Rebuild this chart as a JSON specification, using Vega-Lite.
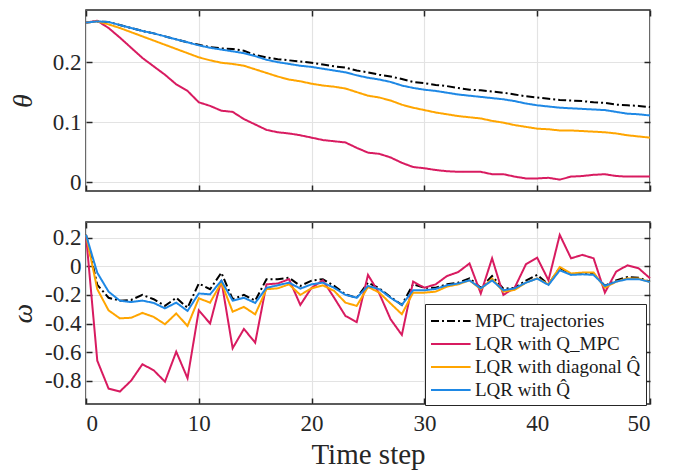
{
"$schema":"https://vega.github.io/schema/vega-lite/v6.json",
"padding":{"left":8,"top":8,"right":5,"bottom":5},
"background":"white",
"data":{"values":[
{"s":"MPC trajectories","t":0,"th":0.266,"w":0.22},
{"s":"MPC trajectories","t":1,"th":0.268,"w":-0.13},
{"s":"MPC trajectories","t":2,"th":0.267,"w":-0.22},
{"s":"MPC trajectories","t":3,"th":0.262,"w":-0.24},
{"s":"MPC trajectories","t":4,"th":0.257,"w":-0.235},
{"s":"MPC trajectories","t":5,"th":0.252,"w":-0.2},
{"s":"MPC trajectories","t":6,"th":0.248,"w":-0.23},
{"s":"MPC trajectories","t":7,"th":0.243,"w":-0.277},
{"s":"MPC trajectories","t":8,"th":0.238,"w":-0.22},
{"s":"MPC trajectories","t":9,"th":0.233,"w":-0.29},
{"s":"MPC trajectories","t":10,"th":0.229,"w":-0.12},
{"s":"MPC trajectories","t":11,"th":0.225,"w":-0.16},
{"s":"MPC trajectories","t":12,"th":0.223,"w":-0.045},
{"s":"MPC trajectories","t":13,"th":0.222,"w":-0.23},
{"s":"MPC trajectories","t":14,"th":0.219,"w":-0.2},
{"s":"MPC trajectories","t":15,"th":0.212,"w":-0.24},
{"s":"MPC trajectories","t":16,"th":0.208,"w":-0.09},
{"s":"MPC trajectories","t":17,"th":0.205,"w":-0.09},
{"s":"MPC trajectories","t":18,"th":0.203,"w":-0.08},
{"s":"MPC trajectories","t":19,"th":0.201,"w":-0.137},
{"s":"MPC trajectories","t":20,"th":0.199,"w":-0.1},
{"s":"MPC trajectories","t":21,"th":0.196,"w":-0.09},
{"s":"MPC trajectories","t":22,"th":0.193,"w":-0.137},
{"s":"MPC trajectories","t":23,"th":0.191,"w":-0.196},
{"s":"MPC trajectories","t":24,"th":0.186,"w":-0.22},
{"s":"MPC trajectories","t":25,"th":0.183,"w":-0.114},
{"s":"MPC trajectories","t":26,"th":0.179,"w":-0.154},
{"s":"MPC trajectories","t":27,"th":0.176,"w":-0.215},
{"s":"MPC trajectories","t":28,"th":0.172,"w":-0.27},
{"s":"MPC trajectories","t":29,"th":0.167,"w":-0.125},
{"s":"MPC trajectories","t":30,"th":0.165,"w":-0.15},
{"s":"MPC trajectories","t":31,"th":0.162,"w":-0.15},
{"s":"MPC trajectories","t":32,"th":0.16,"w":-0.126},
{"s":"MPC trajectories","t":33,"th":0.157,"w":-0.114},
{"s":"MPC trajectories","t":34,"th":0.154,"w":-0.084},
{"s":"MPC trajectories","t":35,"th":0.153,"w":-0.15},
{"s":"MPC trajectories","t":36,"th":0.151,"w":-0.068},
{"s":"MPC trajectories","t":37,"th":0.149,"w":-0.156},
{"s":"MPC trajectories","t":38,"th":0.146,"w":-0.15},
{"s":"MPC trajectories","t":39,"th":0.143,"w":-0.1},
{"s":"MPC trajectories","t":40,"th":0.141,"w":-0.06},
{"s":"MPC trajectories","t":41,"th":0.139,"w":-0.126},
{"s":"MPC trajectories","t":42,"th":0.137,"w":-0.01},
{"s":"MPC trajectories","t":43,"th":0.136,"w":-0.056},
{"s":"MPC trajectories","t":44,"th":0.135,"w":-0.05},
{"s":"MPC trajectories","t":45,"th":0.133,"w":-0.05},
{"s":"MPC trajectories","t":46,"th":0.132,"w":-0.137},
{"s":"MPC trajectories","t":47,"th":0.129,"w":-0.098},
{"s":"MPC trajectories","t":48,"th":0.128,"w":-0.075},
{"s":"MPC trajectories","t":49,"th":0.127,"w":-0.08},
{"s":"MPC trajectories","t":50,"th":0.125,"w":-0.107},
{"s":"LQR with Q_MPC","t":0,"th":0.266,"w":0.22},
{"s":"LQR with Q_MPC","t":1,"th":0.269,"w":-0.66},
{"s":"LQR with Q_MPC","t":2,"th":0.257,"w":-0.855},
{"s":"LQR with Q_MPC","t":3,"th":0.241,"w":-0.876},
{"s":"LQR with Q_MPC","t":4,"th":0.224,"w":-0.8},
{"s":"LQR with Q_MPC","t":5,"th":0.207,"w":-0.685},
{"s":"LQR with Q_MPC","t":6,"th":0.193,"w":-0.727},
{"s":"LQR with Q_MPC","t":7,"th":0.179,"w":-0.807},
{"s":"LQR with Q_MPC","t":8,"th":0.163,"w":-0.597},
{"s":"LQR with Q_MPC","t":9,"th":0.152,"w":-0.783},
{"s":"LQR with Q_MPC","t":10,"th":0.133,"w":-0.308},
{"s":"LQR with Q_MPC","t":11,"th":0.127,"w":-0.4},
{"s":"LQR with Q_MPC","t":12,"th":0.119,"w":-0.098},
{"s":"LQR with Q_MPC","t":13,"th":0.117,"w":-0.573},
{"s":"LQR with Q_MPC","t":14,"th":0.105,"w":-0.438},
{"s":"LQR with Q_MPC","t":15,"th":0.096,"w":-0.534},
{"s":"LQR with Q_MPC","t":16,"th":0.087,"w":-0.126},
{"s":"LQR with Q_MPC","t":17,"th":0.083,"w":-0.12},
{"s":"LQR with Q_MPC","t":18,"th":0.081,"w":-0.09},
{"s":"LQR with Q_MPC","t":19,"th":0.078,"w":-0.27},
{"s":"LQR with Q_MPC","t":20,"th":0.074,"w":-0.15},
{"s":"LQR with Q_MPC","t":21,"th":0.07,"w":-0.098},
{"s":"LQR with Q_MPC","t":22,"th":0.068,"w":-0.22},
{"s":"LQR with Q_MPC","t":23,"th":0.066,"w":-0.347},
{"s":"LQR with Q_MPC","t":24,"th":0.057,"w":-0.39},
{"s":"LQR with Q_MPC","t":25,"th":0.049,"w":-0.06},
{"s":"LQR with Q_MPC","t":26,"th":0.047,"w":-0.19},
{"s":"LQR with Q_MPC","t":27,"th":0.041,"w":-0.37},
{"s":"LQR with Q_MPC","t":28,"th":0.032,"w":-0.48},
{"s":"LQR with Q_MPC","t":29,"th":0.025,"w":-0.107},
{"s":"LQR with Q_MPC","t":30,"th":0.023,"w":-0.15},
{"s":"LQR with Q_MPC","t":31,"th":0.02,"w":-0.126},
{"s":"LQR with Q_MPC","t":32,"th":0.018,"w":-0.068},
{"s":"LQR with Q_MPC","t":33,"th":0.017,"w":-0.04},
{"s":"LQR with Q_MPC","t":34,"th":0.017,"w":0.02},
{"s":"LQR with Q_MPC","t":35,"th":0.017,"w":-0.19},
{"s":"LQR with Q_MPC","t":36,"th":0.013,"w":0.056},
{"s":"LQR with Q_MPC","t":37,"th":0.013,"w":-0.2},
{"s":"LQR with Q_MPC","t":38,"th":0.009,"w":-0.15},
{"s":"LQR with Q_MPC","t":39,"th":0.006,"w":0.014},
{"s":"LQR with Q_MPC","t":40,"th":0.006,"w":0.06},
{"s":"LQR with Q_MPC","t":41,"th":0.007,"w":-0.098},
{"s":"LQR with Q_MPC","t":42,"th":0.004,"w":0.22},
{"s":"LQR with Q_MPC","t":43,"th":0.009,"w":0.056},
{"s":"LQR with Q_MPC","t":44,"th":0.01,"w":0.08},
{"s":"LQR with Q_MPC","t":45,"th":0.012,"w":0.056},
{"s":"LQR with Q_MPC","t":46,"th":0.013,"w":-0.184},
{"s":"LQR with Q_MPC","t":47,"th":0.01,"w":-0.037},
{"s":"LQR with Q_MPC","t":48,"th":0.009,"w":0.007},
{"s":"LQR with Q_MPC","t":49,"th":0.009,"w":-0.014},
{"s":"LQR with Q_MPC","t":50,"th":0.009,"w":-0.084},
{"s":"LQR with diagonal Q\u0302","t":0,"th":0.266,"w":0.22},
{"s":"LQR with diagonal Q\u0302","t":1,"th":0.268,"w":-0.16},
{"s":"LQR with diagonal Q\u0302","t":2,"th":0.263,"w":-0.308},
{"s":"LQR with diagonal Q\u0302","t":3,"th":0.257,"w":-0.364},
{"s":"LQR with diagonal Q\u0302","t":4,"th":0.25,"w":-0.36},
{"s":"LQR with diagonal Q\u0302","t":5,"th":0.243,"w":-0.326},
{"s":"LQR with diagonal Q\u0302","t":6,"th":0.236,"w":-0.354},
{"s":"LQR with diagonal Q\u0302","t":7,"th":0.229,"w":-0.405},
{"s":"LQR with diagonal Q\u0302","t":8,"th":0.222,"w":-0.33},
{"s":"LQR with diagonal Q\u0302","t":9,"th":0.215,"w":-0.417},
{"s":"LQR with diagonal Q\u0302","t":10,"th":0.208,"w":-0.224},
{"s":"LQR with diagonal Q\u0302","t":11,"th":0.203,"w":-0.254},
{"s":"LQR with diagonal Q\u0302","t":12,"th":0.199,"w":-0.114},
{"s":"LQR with diagonal Q\u0302","t":13,"th":0.197,"w":-0.317},
{"s":"LQR with diagonal Q\u0302","t":14,"th":0.194,"w":-0.284},
{"s":"LQR with diagonal Q\u0302","t":15,"th":0.188,"w":-0.336},
{"s":"LQR with diagonal Q\u0302","t":16,"th":0.182,"w":-0.16},
{"s":"LQR with diagonal Q\u0302","t":17,"th":0.176,"w":-0.154},
{"s":"LQR with diagonal Q\u0302","t":18,"th":0.171,"w":-0.126},
{"s":"LQR with diagonal Q\u0302","t":19,"th":0.168,"w":-0.2},
{"s":"LQR with diagonal Q\u0302","t":20,"th":0.164,"w":-0.154},
{"s":"LQR with diagonal Q\u0302","t":21,"th":0.161,"w":-0.133},
{"s":"LQR with diagonal Q\u0302","t":22,"th":0.159,"w":-0.172},
{"s":"LQR with diagonal Q\u0302","t":23,"th":0.156,"w":-0.254},
{"s":"LQR with diagonal Q\u0302","t":24,"th":0.15,"w":-0.277},
{"s":"LQR with diagonal Q\u0302","t":25,"th":0.144,"w":-0.144},
{"s":"LQR with diagonal Q\u0302","t":26,"th":0.141,"w":-0.184},
{"s":"LQR with diagonal Q\u0302","t":27,"th":0.136,"w":-0.26},
{"s":"LQR with diagonal Q\u0302","t":28,"th":0.129,"w":-0.335},
{"s":"LQR with diagonal Q\u0302","t":29,"th":0.124,"w":-0.184},
{"s":"LQR with diagonal Q\u0302","t":30,"th":0.12,"w":-0.184},
{"s":"LQR with diagonal Q\u0302","t":31,"th":0.116,"w":-0.177},
{"s":"LQR with diagonal Q\u0302","t":32,"th":0.113,"w":-0.142},
{"s":"LQR with diagonal Q\u0302","t":33,"th":0.11,"w":-0.126},
{"s":"LQR with diagonal Q\u0302","t":34,"th":0.108,"w":-0.098},
{"s":"LQR with diagonal Q\u0302","t":35,"th":0.106,"w":-0.16},
{"s":"LQR with diagonal Q\u0302","t":36,"th":0.102,"w":-0.086},
{"s":"LQR with diagonal Q\u0302","t":37,"th":0.099,"w":-0.177},
{"s":"LQR with diagonal Q\u0302","t":38,"th":0.095,"w":-0.165},
{"s":"LQR with diagonal Q\u0302","t":39,"th":0.092,"w":-0.114},
{"s":"LQR with diagonal Q\u0302","t":40,"th":0.089,"w":-0.084},
{"s":"LQR with diagonal Q\u0302","t":41,"th":0.088,"w":-0.126},
{"s":"LQR with diagonal Q\u0302","t":42,"th":0.086,"w":-0.005},
{"s":"LQR with diagonal Q\u0302","t":43,"th":0.086,"w":-0.05},
{"s":"LQR with diagonal Q\u0302","t":44,"th":0.085,"w":-0.044},
{"s":"LQR with diagonal Q\u0302","t":45,"th":0.084,"w":-0.044},
{"s":"LQR with diagonal Q\u0302","t":46,"th":0.083,"w":-0.15},
{"s":"LQR with diagonal Q\u0302","t":47,"th":0.081,"w":-0.107},
{"s":"LQR with diagonal Q\u0302","t":48,"th":0.078,"w":-0.084},
{"s":"LQR with diagonal Q\u0302","t":49,"th":0.076,"w":-0.086},
{"s":"LQR with diagonal Q\u0302","t":50,"th":0.074,"w":-0.11},
{"s":"LQR with Q\u0302","t":0,"th":0.266,"w":0.22},
{"s":"LQR with Q\u0302","t":1,"th":0.268,"w":-0.045},
{"s":"LQR with Q\u0302","t":2,"th":0.267,"w":-0.177},
{"s":"LQR with Q\u0302","t":3,"th":0.262,"w":-0.24},
{"s":"LQR with Q\u0302","t":4,"th":0.257,"w":-0.25},
{"s":"LQR with Q\u0302","t":5,"th":0.252,"w":-0.24},
{"s":"LQR with Q\u0302","t":6,"th":0.248,"w":-0.256},
{"s":"LQR with Q\u0302","t":7,"th":0.243,"w":-0.294},
{"s":"LQR with Q\u0302","t":8,"th":0.238,"w":-0.254},
{"s":"LQR with Q\u0302","t":9,"th":0.233,"w":-0.312},
{"s":"LQR with Q\u0302","t":10,"th":0.228,"w":-0.19},
{"s":"LQR with Q\u0302","t":11,"th":0.224,"w":-0.196},
{"s":"LQR with Q\u0302","t":12,"th":0.221,"w":-0.1},
{"s":"LQR with Q\u0302","t":13,"th":0.218,"w":-0.24},
{"s":"LQR with Q\u0302","t":14,"th":0.215,"w":-0.22},
{"s":"LQR with Q\u0302","t":15,"th":0.21,"w":-0.256},
{"s":"LQR with Q\u0302","t":16,"th":0.204,"w":-0.15},
{"s":"LQR with Q\u0302","t":17,"th":0.2,"w":-0.133},
{"s":"LQR with Q\u0302","t":18,"th":0.197,"w":-0.114},
{"s":"LQR with Q\u0302","t":19,"th":0.194,"w":-0.156},
{"s":"LQR with Q\u0302","t":20,"th":0.192,"w":-0.126},
{"s":"LQR with Q\u0302","t":21,"th":0.189,"w":-0.114},
{"s":"LQR with Q\u0302","t":22,"th":0.186,"w":-0.15},
{"s":"LQR with Q\u0302","t":23,"th":0.183,"w":-0.2},
{"s":"LQR with Q\u0302","t":24,"th":0.178,"w":-0.22},
{"s":"LQR with Q\u0302","t":25,"th":0.174,"w":-0.137},
{"s":"LQR with Q\u0302","t":26,"th":0.171,"w":-0.16},
{"s":"LQR with Q\u0302","t":27,"th":0.167,"w":-0.22},
{"s":"LQR with Q\u0302","t":28,"th":0.161,"w":-0.27},
{"s":"LQR with Q\u0302","t":29,"th":0.157,"w":-0.168},
{"s":"LQR with Q\u0302","t":30,"th":0.154,"w":-0.168},
{"s":"LQR with Q\u0302","t":31,"th":0.152,"w":-0.158},
{"s":"LQR with Q\u0302","t":32,"th":0.149,"w":-0.133},
{"s":"LQR with Q\u0302","t":33,"th":0.146,"w":-0.12},
{"s":"LQR with Q\u0302","t":34,"th":0.144,"w":-0.098},
{"s":"LQR with Q\u0302","t":35,"th":0.142,"w":-0.154},
{"s":"LQR with Q\u0302","t":36,"th":0.14,"w":-0.098},
{"s":"LQR with Q\u0302","t":37,"th":0.138,"w":-0.168},
{"s":"LQR with Q\u0302","t":38,"th":0.135,"w":-0.154},
{"s":"LQR with Q\u0302","t":39,"th":0.131,"w":-0.114},
{"s":"LQR with Q\u0302","t":40,"th":0.128,"w":-0.086},
{"s":"LQR with Q\u0302","t":41,"th":0.126,"w":-0.13},
{"s":"LQR with Q\u0302","t":42,"th":0.124,"w":-0.028},
{"s":"LQR with Q\u0302","t":43,"th":0.123,"w":-0.06},
{"s":"LQR with Q\u0302","t":44,"th":0.122,"w":-0.056},
{"s":"LQR with Q\u0302","t":45,"th":0.121,"w":-0.06},
{"s":"LQR with Q\u0302","t":46,"th":0.12,"w":-0.137},
{"s":"LQR with Q\u0302","t":47,"th":0.117,"w":-0.107},
{"s":"LQR with Q\u0302","t":48,"th":0.114,"w":-0.09},
{"s":"LQR with Q\u0302","t":49,"th":0.113,"w":-0.09},
{"s":"LQR with Q\u0302","t":50,"th":0.111,"w":-0.11}
]},
"config":{
  "view":{"stroke":"#262626","strokeWidth":1.5},
  "axis":{"domain":false,"grid":true,"gridColor":"#e3e3e3","gridWidth":1.2,"tickColor":"#262626","tickSize":-6,"tickWidth":1.5,"labelFont":"Liberation Serif","labelFontSize":23,"labelColor":"#262626","titleFont":"Liberation Serif","titleFontWeight":"normal","titleColor":"#262626"},
  "legend":{"labelFont":"Liberation Serif","labelFontSize":19,"labelColor":"#1a1a1a","symbolType":"M-1,0H2.6","symbolSize":484,"symbolStrokeWidth":2,"strokeColor":"#262626","fillColor":"white","padding":5,"rowPadding":1,"labelOffset":21,"cornerRadius":0,"labelLimit":400}
},
"resolve":{"scale":{"color":"independent","strokeDash":"independent"}},
"spacing":25,
"vconcat":[
 {"width":564,"height":181,
  "layer":[
   {"mark":{"type":"line","strokeWidth":2},
    "encoding":{
     "x":{"field":"t","type":"quantitative","scale":{"domain":[0,50],"nice":false},"axis":{"values":[0,10,20,30,40,50],"labels":false,"title":null}},
     "y":{"field":"th","type":"quantitative","scale":{"domain":[-0.015,0.287],"nice":false,"zero":false},"axis":{"values":[0,0.1,0.2],"labelExpr":"toString(datum.value)","labelPadding":11,"title":"θ","titleFontSize":28,"titleFontStyle":"italic","titleX":-63,"titleY":90.5,"titleAngle":-90,"titleBaseline":"middle","titleAlign":"center"}},
     "color":{"field":"s","type":"nominal","scale":{"domain":["MPC trajectories","LQR with Q_MPC","LQR with diagonal Q\u0302","LQR with Q\u0302"],"range":["#000000","#D81B60","#FFA500","#1E88E5"]},"legend":null},
     "strokeDash":{"field":"s","type":"nominal","scale":{"domain":["MPC trajectories","LQR with Q_MPC","LQR with diagonal Q\u0302","LQR with Q\u0302"],"range":[[8,3,2,3],[1,0],[1,0],[1,0]]},"legend":null}
    }},
   {"mark":{"type":"point","opacity":0},
    "encoding":{
     "x":{"field":"t","type":"quantitative","scale":{"domain":[0,50],"nice":false},"axis":{"orient":"top","values":[0,10,20,30,40,50],"labels":false,"grid":false,"title":null}},
     "y":{"field":"th","type":"quantitative","scale":{"domain":[-0.015,0.287],"nice":false,"zero":false},"axis":{"orient":"right","values":[0,0.1,0.2],"labels":false,"grid":false,"title":null}}
    }}
  ],
  "resolve":{"axis":{"x":"independent","y":"independent"}}
 },
 {"width":564,"height":182,
  "layer":[
   {"mark":{"type":"line","strokeWidth":2},
    "encoding":{
     "x":{"field":"t","type":"quantitative","scale":{"domain":[0,50],"nice":false},"axis":{"values":[0,10,20,30,40,50],"labelPadding":14,"title":"Time step","titleFontSize":29,"titleX":282,"titleY":59,"titleBaseline":"alphabetic","titleAlign":"center"}},
     "y":{"field":"w","type":"quantitative","scale":{"domain":[-0.963,0.31],"nice":false,"zero":false},"axis":{"values":[-0.8,-0.6,-0.4,-0.2,0,0.2],"labelExpr":"toString(datum.value)","labelPadding":11,"title":"ω","titleFontSize":28,"titleFontStyle":"italic","titleX":-63,"titleY":91,"titleAngle":-90,"titleBaseline":"middle","titleAlign":"center"}},
     "color":{"field":"s","type":"nominal","scale":{"domain":["MPC trajectories","LQR with Q_MPC","LQR with diagonal Q\u0302","LQR with Q\u0302"],"range":["#000000","#D81B60","#FFA500","#1E88E5"]},"legend":{"orient":"none","legendX":339,"legendY":82,"title":null}},
     "strokeDash":{"field":"s","type":"nominal","scale":{"domain":["MPC trajectories","LQR with Q_MPC","LQR with diagonal Q\u0302","LQR with Q\u0302"],"range":[[8,3,2,3],[1,0],[1,0],[1,0]]},"legend":{"orient":"none","legendX":339,"legendY":82,"title":null}}
    }},
   {"mark":{"type":"point","opacity":0},
    "encoding":{
     "x":{"field":"t","type":"quantitative","scale":{"domain":[0,50],"nice":false},"axis":{"orient":"top","values":[0,10,20,30,40,50],"labels":false,"grid":false,"title":null}},
     "y":{"field":"w","type":"quantitative","scale":{"domain":[-0.963,0.31],"nice":false,"zero":false},"axis":{"orient":"right","values":[-0.8,-0.6,-0.4,-0.2,0,0.2],"labels":false,"grid":false,"title":null}}
    }}
  ],
  "resolve":{"axis":{"x":"independent","y":"independent"}}
 }
]
}
